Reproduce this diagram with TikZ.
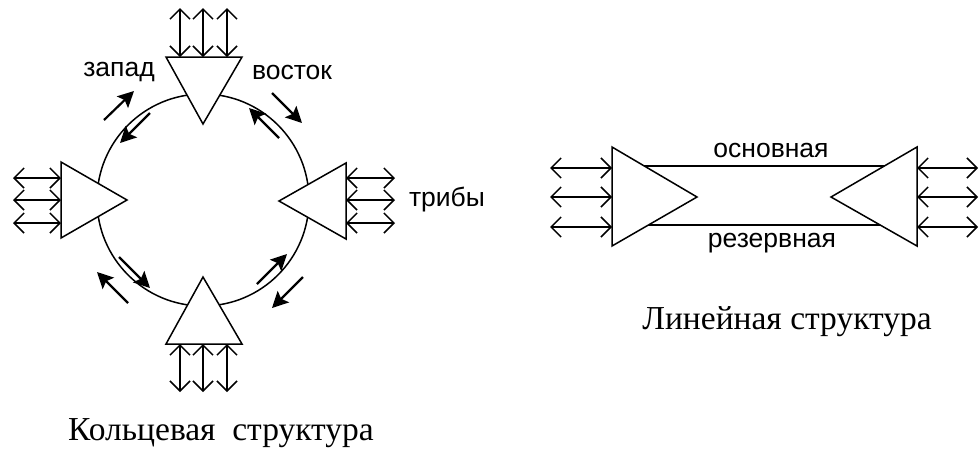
\documentclass[tikz,border=0pt]{standalone}
\usepackage{fontspec}
\setmainfont{Liberation Serif}
\newfontfamily\lsans{Liberation Sans}
\usetikzlibrary{arrows.meta}
\tikzset{
  tri/.style={draw=black, fill=white, line width=1.5pt, line join=miter},
  trib/.style={line width=1.5pt, {Straight Barb[length=10pt,width=20pt,line width=1.5pt]}-{Straight Barb[length=10pt,width=20pt,line width=1.5pt]}},
  flow/.style={line width=2.2pt, -{Stealth[length=16pt,width=16pt,inset=3pt]}},
  ring/.style={line width=1.5pt},
  lane/.style={line width=2.8pt},
  lbl/.style={font=\lsans\fontsize{26.5}{26.5}\selectfont, inner sep=0pt},
  captxt/.style={font=\fontsize{33.5}{33.5}\selectfont, inner sep=0pt}
}
\begin{document}
\begin{tikzpicture}[x=1pt,y=-1pt]
\useasboundingbox (0,0) rectangle (979,456);
% ring
\draw[ring] (203,200) circle[radius=106];
% triangles of the ring
\draw[tri] (166,57) coordinate (Ta) -- (242,57) coordinate (Tb) -- (203,124) coordinate (Tc) -- cycle;
\draw[tri] (166,344) coordinate (Ba) -- (242,344) coordinate (Bb) -- (203,277) coordinate (Bc) -- cycle;
\draw[tri] (61,162) coordinate (La) -- (61,238) coordinate (Lb) -- (127,200) coordinate (Lc) -- cycle;
\draw[tri] (346,163) coordinate (Ra) -- (346,239) coordinate (Rb) -- (279,201) coordinate (Rc) -- cycle;
% tribe connectors
\foreach \i/\x in {1/180,2/203,3/227}{
  \coordinate (tu\i) at (\x,8); \coordinate (td\i) at (\x,57);
  \draw[trib] (tu\i) -- (td\i);
  \coordinate (bu\i) at (\x,344); \coordinate (bd\i) at (\x,392);
  \draw[trib] (bu\i) -- (bd\i);
}
\foreach \i/\y in {1/178,2/200,3/223}{
  \coordinate (ll\i) at (13,\y); \coordinate (lr\i) at (61,\y);
  \draw[trib] (ll\i) -- (lr\i);
  \coordinate (rl\i) at (346,\y); \coordinate (rr\i) at (395,\y);
  \draw[trib] (rl\i) -- (rr\i);
}
% flow arrows
\coordinate (f1a) at (104,120); \coordinate (f1b) at (134,91);
\coordinate (f2a) at (150,113); \coordinate (f2b) at (120,143);
\coordinate (f3a) at (272,93);  \coordinate (f3b) at (302,123);
\coordinate (f4a) at (279,138); \coordinate (f4b) at (249,108);
\coordinate (f5a) at (128,303); \coordinate (f5b) at (97,272);
\coordinate (f6a) at (119,257); \coordinate (f6b) at (150,288);
\coordinate (f7a) at (257,284); \coordinate (f7b) at (287,254);
\coordinate (f8a) at (303,277); \coordinate (f8b) at (272,308);
\foreach \k in {1,...,8}{ \draw[flow] (f\k a) -- (f\k b); }
% labels
\node[lbl] (zapad) at (119,72) {запад};
\node[lbl] (vostok) at (292,72) {восток};
\node[lbl] (triby) at (447,200) {трибы};
\node[captxt] (ringcap) at (221,433) {Кольцевая\ \ структура};
% linear structure
\coordinate (m1) at (612,166); \coordinate (m2) at (917,166);
\coordinate (r1) at (612,225); \coordinate (r2) at (917,225);
\draw[lane] (m1) -- (m2);
\draw[lane] (r1) -- (r2);
\draw[tri] (612,147) coordinate (Pa) -- (612,246) coordinate (Pb) -- (697,197) coordinate (Pc) -- cycle;
\draw[tri] (917,147) coordinate (Qa) -- (917,246) coordinate (Qb) -- (831,197) coordinate (Qc) -- cycle;
\foreach \i/\y in {1/168,2/197,3/227}{
  \coordinate (pl\i) at (550,\y); \coordinate (pr\i) at (612,\y);
  \draw[trib] (pl\i) -- (pr\i);
  \coordinate (ql\i) at (917,\y); \coordinate (qr\i) at (978,\y);
  \draw[trib] (ql\i) -- (qr\i);
}
\node[lbl] (osn) at (771,150) {основная};
\node[lbl] (rez) at (772,243) {резервная};
\node[captxt] (lincap) at (787,322) {Линейная структура};
\end{tikzpicture}
\end{document}
